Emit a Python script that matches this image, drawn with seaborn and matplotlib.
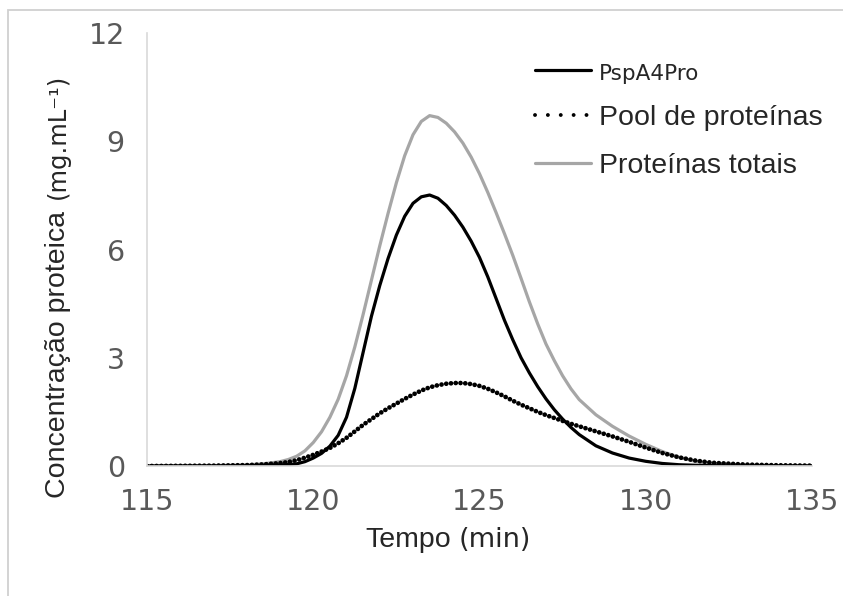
import numpy as np
import pandas as pd
import seaborn as sns
import matplotlib.pyplot as plt
from matplotlib.patches import Rectangle

# tempo (min) and concentrations (mg/mL)
tempo = [115, 116, 117, 118, 118.5,
         119, 119.25, 119.5, 119.75,
         120, 120.25, 120.5, 120.75,
         121, 121.25, 121.5, 121.75,
         122, 122.25, 122.5, 122.75,
         123, 123.25, 123.5, 123.75,
         124, 124.25, 124.5, 124.75,
         125, 125.25, 125.5, 125.75,
         126, 126.25, 126.5, 126.75,
         127, 127.25, 127.5, 127.75,
         128, 128.5, 129, 129.5, 130, 130.5, 131, 131.5, 132,
         133, 134, 135]

psp = [0, 0, 0, 0.005, 0.015,
       0.03, 0.04, 0.06, 0.12,
       0.22, 0.35, 0.55, 0.85,
       1.35, 2.15, 3.15, 4.15,
       5.0, 5.75, 6.4, 6.92,
       7.28, 7.46, 7.51, 7.42,
       7.22, 6.95, 6.62, 6.23,
       5.78, 5.24, 4.64, 4.04,
       3.5, 3.0, 2.58, 2.2,
       1.86, 1.56, 1.3, 1.07,
       0.87, 0.56, 0.36, 0.22, 0.13, 0.07, 0.035, 0.02, 0.01,
       0, 0, 0]

pool = [0, 0.005, 0.01, 0.025, 0.045,
        0.08, 0.11, 0.16, 0.23,
        0.31, 0.4, 0.5, 0.63,
        0.78, 0.96, 1.14, 1.3,
        1.46, 1.6, 1.73, 1.86,
        1.98, 2.09, 2.18, 2.24,
        2.28, 2.3, 2.3, 2.27,
        2.22, 2.14, 2.04, 1.93,
        1.81, 1.7, 1.6, 1.5,
        1.41, 1.33, 1.25, 1.17,
        1.1, 0.96, 0.82, 0.67, 0.51, 0.36, 0.24, 0.15, 0.09,
        0.04, 0.02, 0.01]

totais = [0, 0.005, 0.01, 0.03, 0.06,
          0.12, 0.18, 0.27, 0.42,
          0.65, 0.95, 1.35, 1.85,
          2.5, 3.3, 4.2, 5.15,
          6.1, 7.0, 7.85, 8.6,
          9.18, 9.55, 9.71, 9.66,
          9.5, 9.26, 8.95, 8.56,
          8.1, 7.58, 7.02, 6.44,
          5.84, 5.2, 4.55, 3.94,
          3.38, 2.92, 2.5, 2.14,
          1.84, 1.42, 1.1, 0.83, 0.6, 0.4, 0.24, 0.13, 0.07,
          0.025, 0.01, 0]

labels = ['PspA4Pro', 'Pool de proteínas', 'Proteínas totais']
xticks = [115, 120, 125, 130, 135]
yticks = [0, 3, 6, 9, 12]

df = pd.DataFrame({'tempo': tempo, 'psp': psp, 'pool': pool, 'totais': totais})

sns.set_style('white')
plt.rcParams['font.family'] = ['DejaVu Sans']

fig = plt.figure(figsize=(8.43, 5.96), dpi=100)
ax = fig.add_axes([147 / 843, 1 - 466 / 596, 665 / 843, 433 / 596])

sns.lineplot(data=df, x='tempo', y='totais', ax=ax, color='#a6a6a6', lw=2.3,
             estimator=None, label=labels[2])
sns.lineplot(data=df, x='tempo', y='pool', ax=ax, color='black', lw=3.4,
             ls=(0, (0.01, 1.0)), dash_capstyle='round', estimator=None, label=labels[1])
sns.lineplot(data=df, x='tempo', y='psp', ax=ax, color='black', lw=2.3,
             estimator=None, label=labels[0])

ax.set_xlim(115, 135)
ax.set_ylim(0, 12)
ax.set_xticks(xticks)
ax.set_yticks(yticks)
ax.set_xlabel('')
ax.set_ylabel('')
ax.tick_params(length=0, labelsize=20.5, labelcolor='#595959', pad=16)
for s in ['top', 'right']:
    ax.spines[s].set_visible(False)
for s in ['left', 'bottom']:
    ax.spines[s].set_color('#d9d9d9')
    ax.spines[s].set_linewidth(1.2)

# legend in the order of the original
h, l = ax.get_legend_handles_labels()
order = [l.index(t) for t in labels]
leg = ax.legend([h[i] for i in order], [l[i] for i in order],
                loc='upper left', bbox_to_anchor=(535 / 843, 1 - 60 / 596),
                bbox_transform=fig.transFigure, frameon=False,
                handlelength=1.95, handletextpad=0.3, labelspacing=0.75,
                borderpad=0, borderaxespad=0,
                prop={'family': 'Liberation Sans', 'size': 20.5})
leg.get_texts()[0].set_fontfamily('DejaVu Sans')
leg.get_texts()[0].set_fontsize(15.5)
leg.get_lines()[1].set_linestyle((0, (0.01, 3.3)))
leg.get_lines()[1].set_linewidth(2.8)
leg.get_lines()[1].set_dash_capstyle('round')

# axis titles mixing two fonts, like the original
t1 = fig.text(65 / 843, 1 - 498 / 596, 'Concentração proteica', family='Liberation Sans',
              fontsize=20.5, rotation=90, rotation_mode='anchor', ha='left', va='baseline')
fig.canvas.draw()
top = t1.get_window_extent().y1
fig.text(65 / 843, (top + 12) / 596, '(mg.mL⁻¹)', family='DejaVu Sans',
         fontsize=17.5, rotation=90, rotation_mode='anchor', ha='left', va='baseline')

t2 = fig.text(365 / 843, 1 - 547 / 596, 'Tempo', family='Liberation Sans', fontsize=20.5,
              ha='left', va='baseline')
fig.canvas.draw()
right = t2.get_window_extent().x1
fig.text((right + 8) / 843, 1 - 547 / 596, '(min)', family='DejaVu Sans', fontsize=19.5,
         ha='left', va='baseline')

fig.add_artist(Rectangle((8 / 843, -0.1), 2, 1.1 - 10 / 596, transform=fig.transFigure,
                         fill=False, ec='#d0d0d0', lw=1.3))

fig.savefig('out.png', dpi=100)
